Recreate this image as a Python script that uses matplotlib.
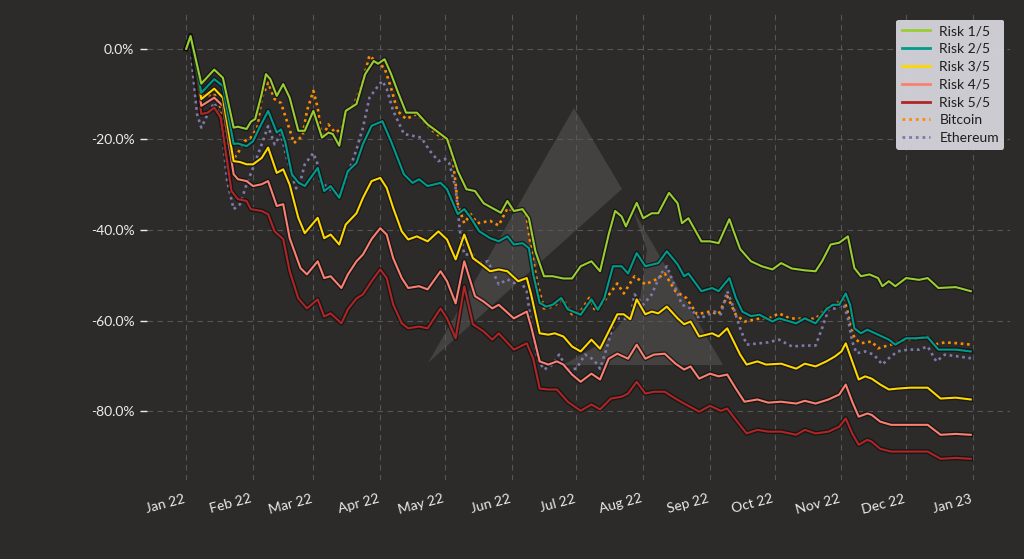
import matplotlib
matplotlib.use("Agg")
import matplotlib.pyplot as plt
import matplotlib.dates as mdates
import matplotlib.patheffects as pe
from matplotlib.ticker import PercentFormatter, FixedLocator
from matplotlib.patches import Polygon
import pandas as pd

# ---------------- data (day offset from 2022-01-01, cumulative return %) -------------
START = "2022-01-01"

RISK_1 = [(0, 0.0), (2, 2.8), (7, -7.7), (13, -4.6), (17, -6.4), (22, -17.4), (24, -17.2), (28, -17.7),
          (30, -16.1), (32, -15.5), (35, -10.0), (37, -5.6), (39, -6.7), (42, -10.4), (45, -7.8), (48, -10.8),
          (52, -18.1), (55, -18.1), (59, -13.7), (63, -19.6), (66, -18.5), (68, -18.8), (71, -21.4), (74, -13.7),
          (79, -12.2), (83, -5.6), (87, -2.7), (89, -3.3), (92, -2.3), (95, -5.5), (98, -9.3), (102, -14.1),
          (107, -14.1), (112, -16.7), (116, -18.1), (121, -19.9), (126, -27.0), (130, -31.0), (134, -31.4),
          (138, -34.1), (146, -36.2), (149, -33.6), (152, -35.8), (156, -35.4), (159, -37.4), (162, -44.7),
          (166, -50.2), (170, -50.2), (175, -50.7), (179, -50.7), (183, -48.0), (188, -46.9), (192, -49.1),
          (196, -41.0), (199, -35.8), (202, -37.0), (204, -39.2), (209, -34.0), (212, -37.4), (216, -36.3),
          (219, -36.3), (224, -31.8), (228, -34.1), (230, -38.5), (233, -37.4), (239, -42.5), (243, -42.5),
          (247, -42.9), (252, -37.6), (254, -40.3), (257, -44.2), (262, -46.9), (267, -48.0), (272, -48.7),
          (276, -47.3), (281, -48.5), (287, -48.9), (292, -49.1), (295, -46.9), (299, -43.2), (303, -42.8),
          (307, -41.4), (310, -48.4), (313, -50.2), (317, -49.8), (321, -50.6), (323, -52.4), (326, -51.3),
          (329, -52.4), (334, -50.6), (340, -51.0), (344, -50.6), (349, -52.8), (357, -52.6), (364, -53.5)]

RISK_2 = [(0, 0.0), (2, 2.8), (7, -9.7), (13, -6.7), (17, -8.2), (22, -21.0), (24, -20.9), (28, -21.5),
          (31, -20.4), (34, -17.4), (38, -13.7), (42, -18.5), (44, -17.8), (46, -20.7), (49, -27.7), (52, -29.5),
          (55, -30.3), (61, -26.3), (64, -31.4), (67, -30.3), (71, -32.9), (75, -27.0), (79, -25.2), (82, -21.0),
          (86, -17.0), (91, -16.0), (95, -20.4), (101, -27.7), (105, -29.6), (108, -28.8), (112, -30.3),
          (118, -29.6), (121, -31.0), (126, -36.5), (129, -35.4), (132, -37.3), (136, -40.3), (141, -41.8),
          (145, -42.5), (149, -41.4), (152, -43.2), (156, -42.9), (159, -44.0), (161, -49.8), (164, -56.1),
          (167, -56.9), (170, -56.5), (174, -55.0), (177, -57.5), (183, -58.7), (188, -55.3), (191, -57.6),
          (194, -55.0), (198, -48.0), (202, -48.0), (205, -49.6), (209, -45.1), (213, -48.0), (219, -47.3),
          (223, -44.7), (228, -47.6), (231, -50.2), (233, -49.6), (239, -53.5), (244, -52.8), (247, -53.5),
          (252, -50.6), (255, -55.0), (258, -58.0), (262, -59.0), (266, -58.7), (272, -60.2), (275, -59.5),
          (283, -60.6), (287, -59.5), (292, -60.6), (297, -57.5), (300, -56.5), (303, -56.5), (306, -54.0),
          (308, -56.5), (310, -61.7), (313, -62.8), (316, -62.0), (321, -63.1), (326, -64.2), (329, -65.3),
          (334, -63.9), (338, -63.9), (344, -63.7), (349, -66.4), (357, -66.4), (364, -66.8)]

RISK_3 = [(0, 0.0), (2, 2.8), (7, -11.1), (13, -8.8), (17, -10.8), (22, -24.8), (25, -25.0), (28, -25.5),
          (31, -25.5), (35, -24.1), (38, -21.8), (42, -27.4), (45, -26.6), (48, -30.0), (52, -37.3), (55, -40.7),
          (61, -37.3), (64, -41.8), (67, -41.0), (71, -43.2), (74, -38.8), (79, -36.3), (82, -32.9), (86, -29.2),
          (90, -28.5), (93, -30.7), (96, -35.1), (100, -40.3), (103, -42.1), (107, -41.4), (112, -42.5),
          (117, -40.3), (121, -42.1), (125, -46.5), (129, -41.0), (133, -46.2), (137, -47.6), (141, -49.1),
          (145, -48.7), (149, -49.1), (154, -51.3), (158, -50.6), (160, -54.2), (164, -62.8), (168, -63.1),
          (171, -62.8), (175, -63.5), (179, -65.7), (183, -66.8), (188, -64.2), (192, -66.2), (196, -62.4),
          (200, -58.6), (203, -58.6), (206, -59.7), (209, -55.3), (213, -58.6), (216, -58.0), (219, -58.4),
          (223, -56.9), (228, -59.5), (231, -60.8), (234, -60.2), (238, -63.5), (244, -62.8), (247, -63.5),
          (251, -61.7), (254, -64.6), (257, -67.5), (260, -69.7), (265, -69.0), (269, -69.7), (276, -69.5),
          (283, -70.6), (287, -69.5), (292, -70.1), (297, -69.0), (301, -67.9), (304, -66.8), (306, -65.0),
          (309, -69.0), (312, -73.0), (315, -72.3), (318, -72.8), (322, -74.1), (326, -75.2), (330, -75.0),
          (336, -74.8), (344, -74.8), (350, -77.2), (357, -77.0), (364, -77.4)]

RISK_4 = [(0, 0.0), (2, 2.8), (7, -12.6), (13, -10.8), (17, -12.6), (22, -27.7), (24, -28.8), (28, -29.2),
          (31, -30.3), (35, -29.9), (38, -29.2), (42, -34.7), (45, -34.3), (48, -41.8), (53, -48.4), (56, -49.8),
          (61, -46.9), (64, -50.6), (67, -50.2), (72, -52.8), (75, -49.8), (79, -46.9), (82, -45.4), (86, -42.0),
          (90, -39.6), (93, -41.0), (96, -46.2), (100, -50.6), (103, -52.8), (108, -52.4), (112, -53.1),
          (118, -49.1), (121, -51.3), (125, -56.2), (129, -46.9), (134, -54.6), (138, -55.8), (142, -57.3),
          (145, -56.5), (152, -59.5), (158, -58.0), (160, -61.3), (164, -69.0), (168, -69.7), (172, -69.0),
          (175, -69.7), (179, -71.9), (183, -73.5), (188, -71.7), (192, -73.0), (196, -68.4), (200, -67.3),
          (205, -68.4), (209, -65.3), (213, -68.4), (217, -67.5), (222, -67.3), (227, -69.5), (231, -70.8),
          (234, -70.1), (238, -72.8), (243, -71.7), (247, -72.3), (251, -71.9), (255, -75.0), (259, -77.9),
          (265, -77.4), (270, -78.1), (276, -77.9), (283, -78.3), (287, -77.7), (292, -78.3), (298, -77.4),
          (303, -76.3), (306, -74.1), (309, -77.9), (312, -81.2), (316, -80.5), (318, -80.8), (322, -82.3),
          (327, -83.0), (336, -83.0), (344, -83.0), (350, -85.2), (357, -85.0), (364, -85.2)]

RISK_5 = [(0, 0.0), (2, 3.0), (7, -14.4), (10, -14.1), (13, -13.0), (16, -15.2), (21, -31.4), (24, -33.2),
          (28, -33.6), (30, -35.4), (35, -35.8), (38, -36.5), (41, -40.3), (45, -42.0), (48, -49.1), (52, -55.1),
          (56, -57.3), (61, -55.3), (64, -59.1), (67, -58.4), (72, -60.6), (75, -57.5), (79, -55.1), (82, -54.2),
          (86, -51.3), (90, -48.7), (93, -50.6), (96, -56.4), (100, -60.6), (103, -61.7), (108, -61.3),
          (112, -61.7), (118, -57.3), (121, -59.5), (125, -63.9), (129, -52.4), (133, -60.8), (138, -62.4),
          (142, -64.2), (145, -62.8), (152, -66.4), (158, -65.0), (161, -68.4), (164, -75.0), (168, -75.2),
          (172, -75.2), (177, -77.9), (183, -79.9), (188, -78.5), (192, -79.6), (197, -77.2), (202, -76.8),
          (205, -76.1), (209, -73.5), (213, -76.1), (217, -75.7), (222, -75.7), (227, -77.2), (231, -78.3),
          (238, -80.1), (243, -78.8), (248, -79.9), (251, -79.4), (255, -81.9), (260, -84.9), (265, -84.1),
          (270, -84.5), (276, -84.5), (283, -85.2), (287, -84.1), (292, -84.9), (298, -84.5), (303, -83.4),
          (306, -81.6), (309, -84.9), (312, -87.4), (316, -86.3), (318, -86.7), (322, -88.3), (327, -88.9),
          (336, -88.9), (344, -88.9), (350, -90.5), (357, -90.3), (364, -90.5)]

BITCOIN = [(0, 0.0), (2, 2.2), (5, -7.0), (6, -10.0), (9, -10.4), (13, -10.0), (16, -13.0), (19, -20.4),
           (22, -24.3), (24, -23.0), (27, -20.4), (30, -19.6), (33, -17.4), (35, -10.8), (38, -7.5), (41, -11.1),
           (44, -12.0), (47, -16.4), (50, -20.8), (54, -19.2), (56, -13.7), (59, -9.3), (61, -13.0), (63, -19.7),
           (66, -16.7), (69, -18.5), (72, -17.7), (74, -13.7), (78, -12.2), (82, -7.1), (85, -1.5), (89, -3.3),
           (92, -4.2), (95, -8.6), (98, -13.7), (102, -15.5), (107, -14.4), (112, -17.0), (116, -18.8),
           (122, -20.4), (124, -25.5), (126, -34.3), (129, -38.5), (132, -36.5), (135, -38.5), (141, -38.0),
           (145, -39.0), (149, -35.2), (152, -35.8), (156, -35.4), (158, -37.4), (160, -44.0), (163, -52.0),
           (166, -57.3), (170, -56.9), (175, -55.3), (179, -58.6), (183, -58.0), (187, -55.0), (190, -58.0),
           (195, -55.0), (200, -51.8), (203, -54.0), (208, -50.2), (213, -52.0), (218, -50.9), (222, -49.6),
           (227, -53.5), (232, -55.0), (237, -58.6), (243, -58.0), (247, -58.6), (251, -54.6), (255, -58.7),
           (259, -60.2), (266, -59.5), (270, -59.6), (275, -58.4), (280, -59.5), (286, -59.6), (292, -59.6),
           (297, -57.3), (301, -56.4), (305, -55.3), (307, -58.0), (310, -63.9), (313, -65.0), (318, -64.6),
           (321, -66.1), (327, -65.3), (334, -64.2), (340, -63.9), (344, -63.5), (347, -65.3), (352, -64.8),
           (358, -65.0), (364, -65.3)]

ETHEREUM = [(0, 0.0), (2, 1.8), (3, -4.9), (5, -14.4), (7, -17.4), (10, -14.4), (13, -11.9), (16, -15.2),
            (19, -29.2), (22, -35.4), (25, -34.3), (28, -29.9), (31, -26.3), (35, -21.1), (38, -17.1),
            (41, -21.1), (44, -18.8), (47, -24.8), (51, -30.8), (53, -29.2), (55, -25.5), (59, -23.0),
            (61, -25.5), (62, -29.2), (66, -30.8), (68, -31.4), (71, -32.5), (75, -27.7), (79, -22.2),
            (82, -17.4), (85, -10.8), (89, -8.2), (91, -7.1), (93, -8.8), (96, -13.7), (101, -18.8),
            (105, -19.2), (109, -19.6), (113, -22.5), (117, -24.8), (120, -24.3), (122, -25.2), (125, -30.8),
            (127, -40.3), (129, -45.4), (133, -45.4), (135, -47.3), (140, -46.9), (145, -52.0), (149, -50.9),
            (152, -51.7), (155, -51.3), (158, -53.5), (160, -60.8), (163, -68.4), (166, -70.8), (170, -69.7),
            (173, -67.5), (177, -70.8), (181, -70.6), (185, -67.5), (189, -68.6), (192, -70.6), (195, -66.2),
            (199, -59.5), (202, -59.5), (206, -59.7), (208, -54.2), (212, -56.5), (216, -54.2), (220, -49.8),
            (223, -48.0), (227, -52.8), (230, -56.5), (234, -57.3), (238, -59.5), (241, -59.0), (245, -58.0),
            (248, -58.6), (251, -53.5), (254, -57.3), (257, -61.7), (260, -65.3), (266, -65.0), (270, -64.8),
            (275, -64.2), (281, -65.7), (287, -65.5), (292, -65.5), (295, -61.7), (298, -57.5), (301, -57.3),
            (305, -56.4), (307, -59.5), (309, -64.6), (311, -67.2), (315, -66.8), (319, -67.5), (323, -69.7),
            (326, -68.3), (330, -66.8), (335, -66.4), (340, -66.4), (344, -65.7), (348, -69.0), (352, -67.5),
            (358, -67.9), (364, -68.3)]

LABELS = ["Risk 1/5", "Risk 2/5", "Risk 3/5", "Risk 4/5", "Risk 5/5", "Bitcoin", "Ethereum"]
Y_TICKS = [0, -20, -40, -60, -80]

# ---------------- style ----------------
BG = "#2c2b29"
TXT = "#ececec"
COLORS = ["#9acd32", "#009b8d", "#ffd700", "#fa8072", "#b02525", "#ff8c00", "#7d79ad"]

plt.rcParams["font.family"] = ["Lato", "DejaVu Sans"]
plt.rcParams["axes.unicode_minus"] = False

fig = plt.figure(figsize=(10.24, 5.59), dpi=100, facecolor=BG)
W, H = 1024, 559
ax = fig.add_axes([147 / W, 1 - 480 / H, (1010 - 147) / W, (480 - 14) / H])
ax.set_facecolor(BG)

# background watermark logo (decoration)
def px(pts):
    return [(x / W, 1 - y / H) for x, y in pts]

ax.add_patch(Polygon(px([(428, 363), (574, 108), (622, 189)]), closed=True,
                     transform=fig.transFigure, facecolor="white", alpha=0.11, edgecolor="none", zorder=0.5))
ax.add_patch(Polygon(px([(633, 210), (723, 365), (563, 365), (607, 340), (640, 300), (647, 250)]), closed=True,
                     transform=fig.transFigure, facecolor="white", alpha=0.11, edgecolor="none", zorder=0.5))

start = pd.Timestamp(START)
series = [RISK_1, RISK_2, RISK_3, RISK_4, RISK_5, BITCOIN, ETHEREUM]
stroke = [pe.Stroke(linewidth=3.4, foreground="#101010", alpha=0.75), pe.Normal()]
for i, (data, lab, col) in enumerate(zip(series, LABELS, COLORS)):
    days, vals = zip(*data)
    dates = [start + pd.Timedelta(days=d) for d in days]
    if i < 5:
        ax.plot(dates, vals, color=col, lw=1.5, label=lab, path_effects=stroke, zorder=3 + (5 - i) * 0.1,
                solid_joinstyle="round")
    else:
        ax.plot(dates, vals, color=col, lw=1.9, ls=(0, (1, 1.4)), label=lab, zorder=2.5)

# axes formatting
ax.yaxis.set_major_locator(FixedLocator(Y_TICKS))
ax.yaxis.set_major_formatter(PercentFormatter(xmax=100, decimals=1))
ax.xaxis.set_major_locator(mdates.MonthLocator())
ax.xaxis.set_major_formatter(mdates.DateFormatter("%b %y"))
for s in ax.spines.values():
    s.set_visible(False)
ax.grid(True, color="#5a5a5a", ls=(0, (5, 4)), lw=0.8, alpha=0.9)
ax.set_axisbelow(True)
ax.tick_params(axis="y", colors=TXT, labelsize=10, length=5, width=1, pad=4)
ax.tick_params(axis="x", colors=TXT, labelsize=10, length=0, pad=9)
for t in ax.get_xticklabels():
    t.set_rotation(15)
    t.set_ha("right")

leg = ax.legend(loc="upper right", fontsize=10, facecolor="#d5d5db", edgecolor="none", framealpha=0.95,
                labelcolor="#1e1e1e", handlelength=2.0, handletextpad=0.7, borderaxespad=0.4,
                labelspacing=0.42, fancybox=True)
for h in leg.legend_handles:
    h.set_path_effects([])
    h.set_linewidth(2.0)

fig.savefig("out.png", dpi=100, facecolor=BG)
